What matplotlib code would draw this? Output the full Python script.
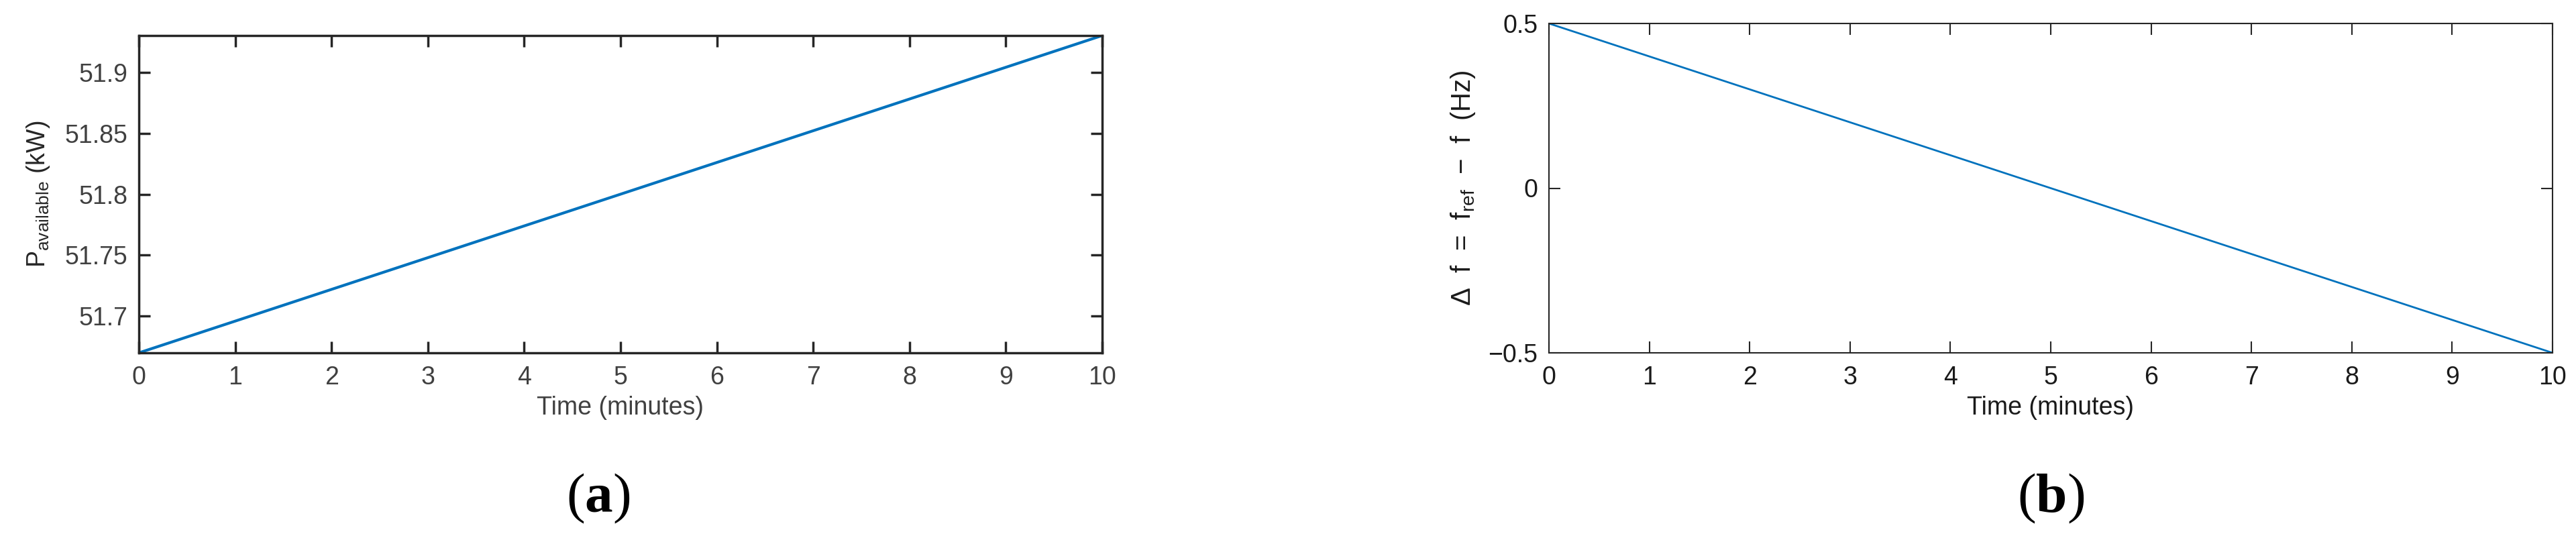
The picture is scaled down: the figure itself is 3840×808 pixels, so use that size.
import numpy as np
import matplotlib.pyplot as plt

plt.rcParams['font.family'] = ['Liberation Sans', 'DejaVu Sans']
plt.rcParams['mathtext.fontset'] = 'custom'
plt.rcParams['mathtext.rm'] = 'Liberation Sans'
plt.rcParams['mathtext.it'] = 'Liberation Sans'
plt.rcParams['mathtext.bf'] = 'Liberation Serif:bold'

# данные
time_min = [0, 10]
p_avail = [51.67, 51.93]
delta_f = [0.5, -0.5]

x_ticks = list(range(0, 11))
p_ticks = [51.7, 51.75, 51.8, 51.85, 51.9]
p_labels = ["51.7", "51.75", "51.8", "51.85", "51.9"]
f_ticks = [-0.5, 0, 0.5]
f_labels = ["\u22120.5", "0", "0.5"]

blue = "#0072BD"
W, H = 3841, 808
fig = plt.figure(figsize=(W / 100, H / 100), dpi=100)


def box(x0, y0, x1, y1):
    return [x0 / W, 1 - y1 / H, (x1 - x0) / W, (y1 - y0) / H]


def style(ax, lw, tcol):
    for s in ax.spines.values():
        s.set_linewidth(lw)
        s.set_color("#262626")
    ax.tick_params(direction="in", length=12, width=lw, top=True, right=True,
                   labelsize=27, labelcolor=tcol, color="#262626")
    ax.tick_params(axis="x", pad=14)
    ax.tick_params(axis="y", pad=12)


# (a)
ax1 = fig.add_axes(box(207, 53, 1643, 526))
ax1.plot(time_min, p_avail, color=blue, lw=3)
ax1.set_xlim(0, 10)
ax1.set_ylim(51.67, 51.93)
ax1.set_xticks(x_ticks)
ax1.set_yticks(p_ticks)
ax1.set_yticklabels(p_labels)
style(ax1, 2.5, "#404040")
ax1.set_xlabel("Time (minutes)", fontsize=27, color="#404040", labelpad=6)
ax1.set_ylabel(r"P$_{\mathrm{available}}$ (kW)", fontsize=27, color="#262626", labelpad=14)

# (b)
ax2 = fig.add_axes(box(2309, 35, 3805, 526))
ax2.plot(time_min, delta_f, color=blue, lw=2)
ax2.set_xlim(0, 10)
ax2.set_ylim(-0.5, 0.5)
ax2.set_xticks(x_ticks)
ax2.set_yticks(f_ticks)
ax2.set_yticklabels(f_labels)
style(ax2, 1.5, "#1a1a1a")
ax2.set_xlabel("Time (minutes)", fontsize=27, color="#1a1a1a", labelpad=6)
ax2.set_ylabel("\u0394  f  =  f$_{\\mathrm{ref}}$  \u2212  f  (Hz)", fontsize=29,
               color="#1a1a1a", labelpad=12)

fig.text(892 / W, 1 - 743 / H, r"($\mathbf{a}$)", fontsize=60, family="Liberation Serif",
         ha="center", va="center")
fig.text(3057 / W, 1 - 743 / H, r"($\mathbf{b}$)", fontsize=60, family="Liberation Serif",
         ha="center", va="center")

fig.savefig("out.png", dpi=100)
